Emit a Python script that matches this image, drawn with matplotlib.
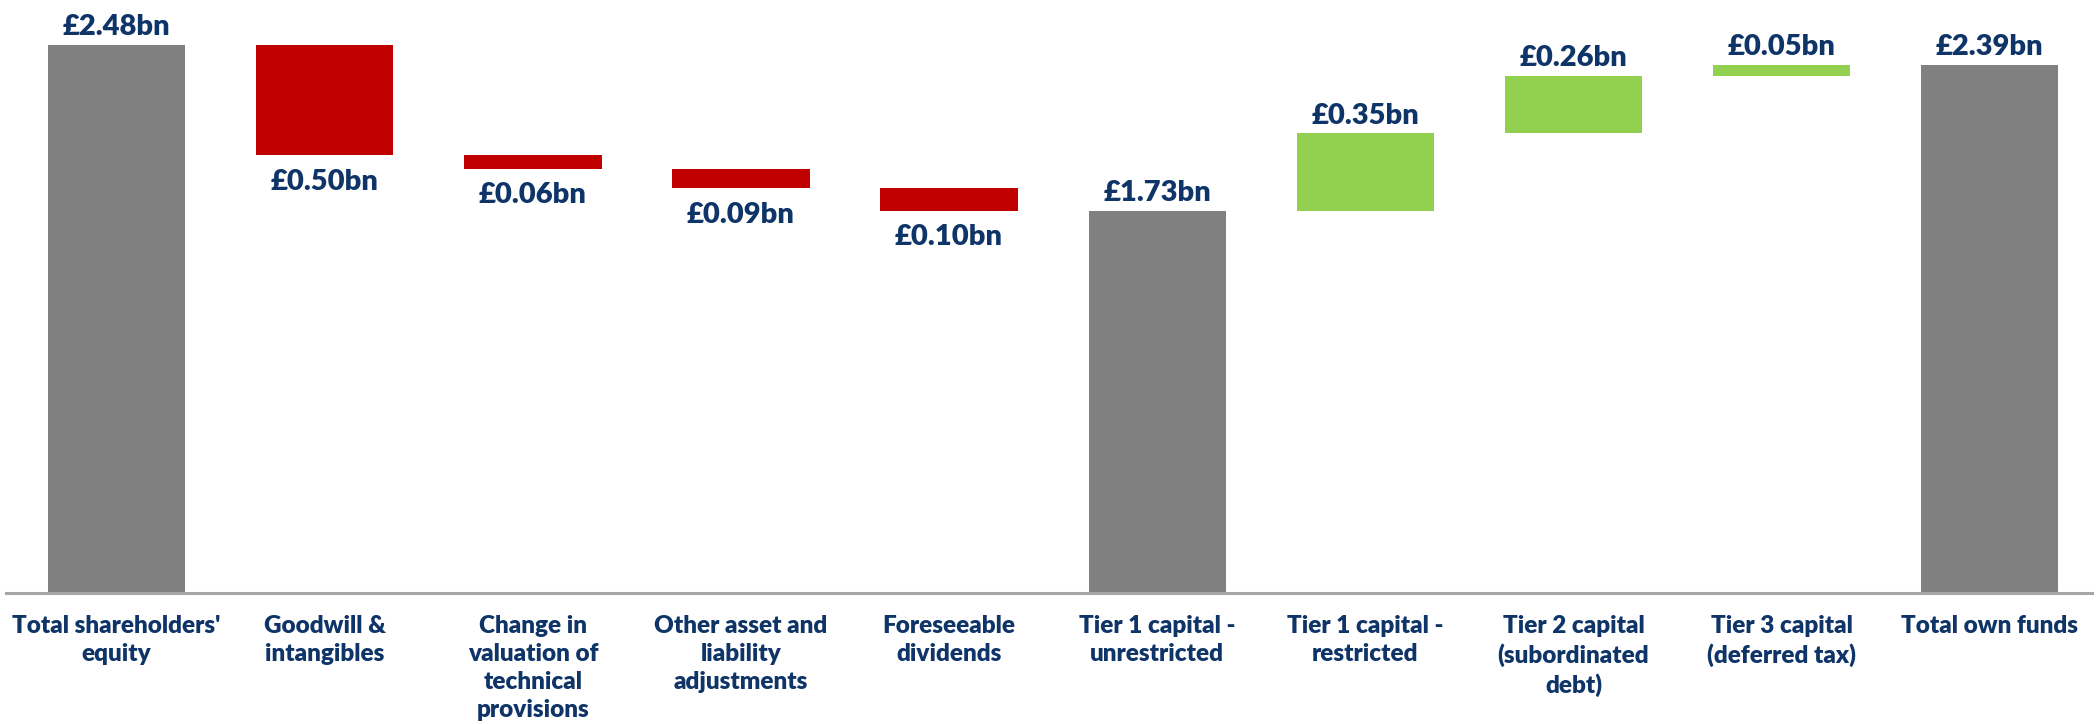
import numpy as np
import matplotlib
matplotlib.use("Agg")
from matplotlib import pyplot as plt

categories = ["Total shareholders'\nequity", "Goodwill &\nintangibles",
              "Change in\nvaluation of\ntechnical\nprovisions",
              "Other asset and\nliability\nadjustments", "Foreseeable\ndividends",
              "Tier 1 capital -\nunrestricted", "Tier 1 capital -\nrestricted",
              "Tier 2 capital\n(subordinated\ndebt)", "Tier 3 capital\n(deferred tax)",
              "Total own funds"]
# change per step (totals are flagged separately)
values = [2.48, -0.50, -0.06, -0.09, -0.10, 1.73, 0.35, 0.26, 0.05, 2.39]
is_total = [True, False, False, False, False, True, False, False, False, True]
labels = ["£2.48bn", "£0.50bn", "£0.06bn", "£0.09bn", "£0.10bn",
          "£1.73bn", "£0.35bn", "£0.26bn", "£0.05bn", "£2.39bn"]

grey = "#808080"
red = "#C00000"
green = "#92D050"
navy = "#0E3468"

plt.rcParams['font.family'] = ['Lato', 'DejaVu Sans']

fig = plt.figure(figsize=(20.98, 7.24), dpi=100)
ax = fig.add_axes([0.003, 0.181, 0.994, 0.80])

# work out bottoms/heights for the waterfall
bottoms, heights, colors = [], [], []
running = 0.0
for v, tot in zip(values, is_total):
    if tot:
        bottoms.append(0.0)
        heights.append(v)
        colors.append(grey)
        running = v
    else:
        if v < 0:
            bottoms.append(running + v)
            heights.append(-v)
            colors.append(red)
        else:
            bottoms.append(running)
            heights.append(v)
            colors.append(green)
        running += v

x = np.arange(len(values))
ax.bar(x, heights, bottom=bottoms, width=0.66, color=colors, zorder=2)

for xi, b, h, v, tot, lab in zip(x, bottoms, heights, values, is_total, labels):
    if v < 0 and not tot:
        ax.text(xi, b - 0.06, lab, ha="center", va="top", color=navy,
                fontsize=21, fontweight="heavy")
    else:
        ax.text(xi, b + h + 0.02, lab, ha="center", va="bottom", color=navy,
                fontsize=21, fontweight="heavy")

ax.set_xlim(-0.53, 9.49)
ax.set_ylim(0, 2.62)
ax.set_xticks(x)
ax.set_xticklabels(categories, color=navy, fontsize=17.5, fontweight="heavy",
                   linespacing=1.33)
ax.tick_params(axis="x", length=0, pad=16)
ax.set_yticks([])
for s in ["top", "right", "left"]:
    ax.spines[s].set_visible(False)
ax.spines["bottom"].set_color("#A6A6A6")
ax.spines["bottom"].set_linewidth(2.2)

plt.savefig("out.png", dpi=100)
